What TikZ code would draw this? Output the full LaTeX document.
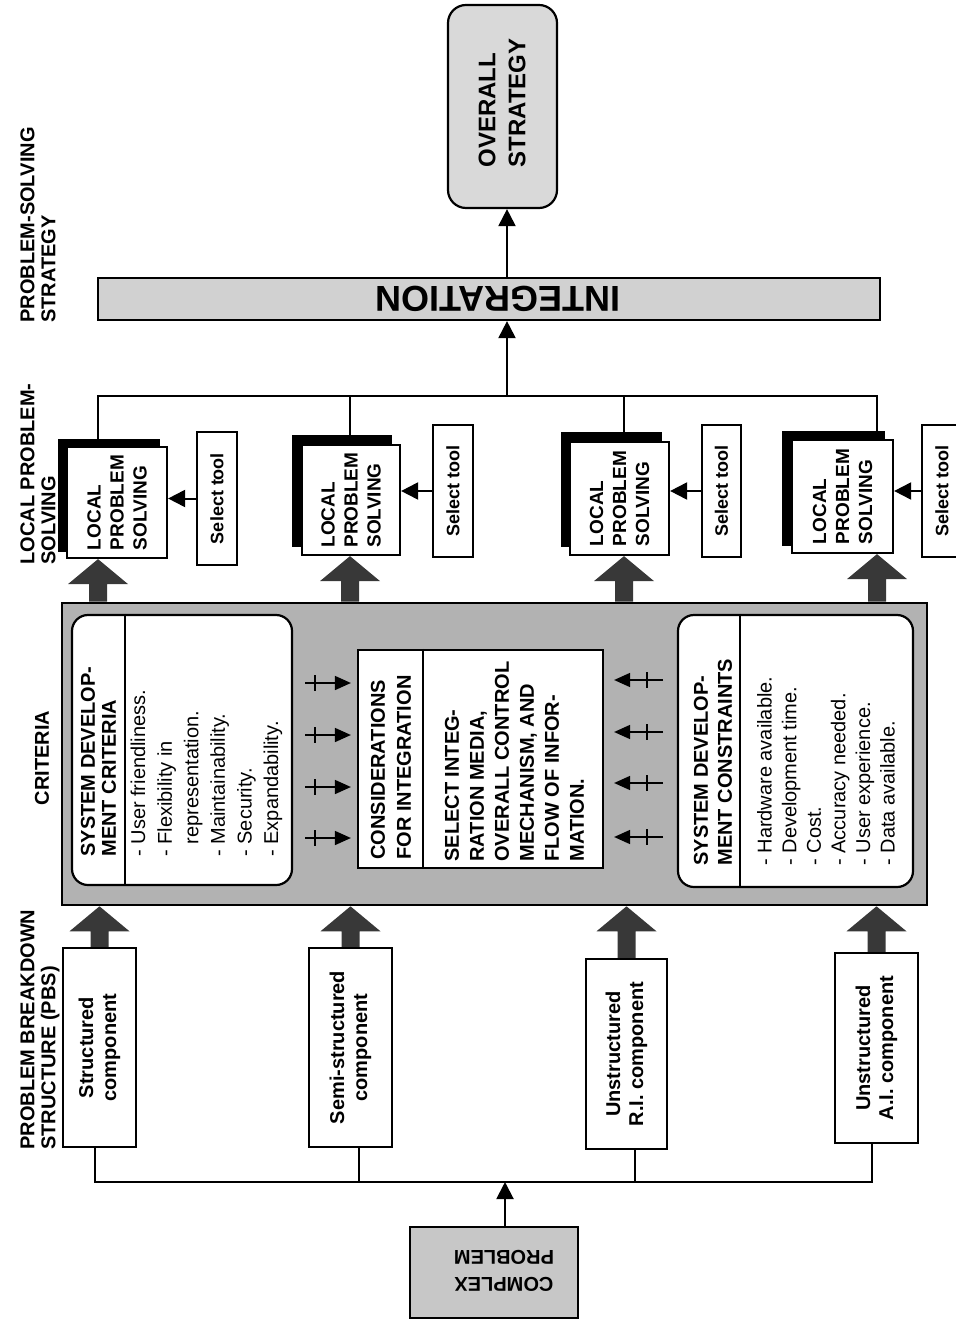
\documentclass[tikz,border=0pt]{standalone}
\usepackage{fontspec}
\setmainfont{Liberation Sans}
\usetikzlibrary{arrows.meta,calc,fit}

\newcommand\fs[2]{\fontsize{#1}{#2}\selectfont}
% broad upward arrow from point #1 (tail) to point #2 (tip)
\newcommand\blockarrow[2]{%
  \fill[blockfill] let \p1=#1, \p2=#2 in
    (\x1-4.5pt,\y1) -- (\x1-4.5pt,\y2-12.5pt) -- (\x1-15pt,\y2-12.5pt) -- (\x1,\y2)
    -- (\x1+15pt,\y2-12.5pt) -- (\x1+4.5pt,\y2-12.5pt) -- (\x1+4.5pt,\y1) -- cycle;}

\begin{document}
\begin{tikzpicture}[x=0.5pt,y=-0.5pt,
  box/.style={draw, line width=1.1pt, fill=white, inner sep=0pt},
  roundbox/.style={box, rounded corners=8pt},
  backbox/.style={draw, fill=black, line width=1pt, inner sep=0pt},
  vtext/.style={rotate=90, align=left, inner sep=0pt},
  hdr/.style={vtext, font=\bfseries\fs{10}{10.5}, anchor=west},
  vlist/.style={vtext, anchor=west},
  wire/.style={line width=1pt},
  arr/.style={wire, -{Triangle[length=8.5pt,width=8.5pt]}},
  smallarr/.style={line width=0.8pt, -{Triangle[length=8pt,width=7pt]}},
  tick/.style={line width=0.8pt},
  blockfill/.style={fill=black!78},
  lpsfont/.style={vtext, font=\bfseries\fs{9.5}{11.5}},
  toolfont/.style={vtext, font=\bfseries\fs{9}{11}},
  compfont/.style={vtext, align=center, font=\bfseries\fs{10}{11.5}},
]
\useasboundingbox (0,0) rectangle (956,1320);

% positions of the vertical links above and below the criteria block
\coordinate (c1) at (98,396);  \coordinate (c2) at (350,396);
\coordinate (c3) at (624,396); \coordinate (c4) at (877,396);
\coordinate (tbus) at (507,396);
\coordinate (b1) at (95,1182);  \coordinate (b2) at (359,1182);
\coordinate (b3) at (635,1182); \coordinate (b4) at (872,1182);
\coordinate (bbus) at (505,1182);

% level headings
\node[hdr] (h1) at (38,323) {PROBLEM-SOLVING\\STRATEGY};
\node[hdr] (h2) at (38,565) {LOCAL PROBLEM-\\SOLVING};
\node[hdr, anchor=center] (h3) at (42,758) {CRITERIA};
\node[hdr] (h4) at (40,1150) {PROBLEM BREAKDOWN\\STRUCTURE (PBS)};

% overall strategy and integration
\node[roundbox, rounded corners=9pt, fill=black!15, fit={(448,5) (557,208)}] (overall) {};
\node[vtext, font=\bfseries\fs{12}{15}] (overallt) at (502,103) {OVERALL\\STRATEGY};
\node[box, fill=black!18, fit={(98,278) (880,320)}] (integ) {};
\node[font=\bfseries\fs{18}{20}, rotate=180, inner sep=0pt] (integt) at (498,299) {INTEGRATION};
\draw[arr] (integ.north -| tbus) -- (overall.south -| tbus);
\draw[arr] (tbus) -- (integ.south -| tbus);

% local problem solving units
\node[backbox, fit={(59,440) (159,551)}] (lps1b) {};
\node[box, fit={(67,447) (167,558)}] (lps1) {};
\node[lpsfont] (lps1t) at (lps1.center) {LOCAL\\PROBLEM\\SOLVING};
\node[backbox, fit={(293,436) (391,546)}] (lps2b) {};
\node[box, fit={(302,445) (400,555)}] (lps2) {};
\node[lpsfont] (lps2t) at (lps2.center) {LOCAL\\PROBLEM\\SOLVING};
\node[backbox, fit={(562,433) (661,546)}] (lps3b) {};
\node[box, fit={(570,442) (669,555)}] (lps3) {};
\node[lpsfont] (lps3t) at (lps3.center) {LOCAL\\PROBLEM\\SOLVING};
\node[backbox, fit={(783,432) (884,545)}] (lps4b) {};
\node[box, fit={(792,440) (893,553)}] (lps4) {};
\node[lpsfont] (lps4t) at (lps4.center) {LOCAL\\PROBLEM\\SOLVING};

\node[box, fit={(197,432) (237,565)}] (st1) {};
\node[toolfont] (st1t) at (st1.center) {Select tool};
\node[box, fit={(433,425) (473,557)}] (st2) {};
\node[toolfont] (st2t) at (st2.center) {Select tool};
\node[box, fit={(702,425) (741,557)}] (st3) {};
\node[toolfont] (st3t) at (st3.center) {Select tool};
\node[box, fit={(922,425) (962,557)}] (st4) {};
\node[toolfont] (st4t) at (st4.center) {Select tool};
\draw[arr] (st1.west) -- (st1.west -| lps1.east);
\draw[arr] (st2.west) -- (st2.west -| lps2.east);
\draw[arr] (st3.west) -- (st3.west -| lps3.east);
\draw[arr] (st4.west) -- (st4.west -| lps4.east);

\draw[wire] (c1 |- lps1b.north) -- (c1) -- (c4) -- (c4 |- lps4b.north);
\draw[wire] (c2) -- (c2 |- lps2b.north);
\draw[wire] (c3) -- (c3 |- lps3b.north);

% criteria block
\node[box, line width=1.3pt, fill=black!30, fit={(62,603) (927,905)}] (crit) {};

\node[roundbox, fit={(72,615) (292,885)}] (sdc) {};
\draw[line width=0.9pt] (sdc.north -| 125,0) -- (sdc.south -| 125,0);
\node[vlist, font=\bfseries\fs{10}{10.6}] (sdct) at (98.5,857) {SYSTEM DEVELOP-\\MENT CRITERIA};
\node[vlist, font=\fs{10}{13.3}] (sdcl) at (206.5,857)
  {- User friendliness.\\- Flexibility in\\\phantom{- }representation.\\- Maintainability.\\- Security.\\- Expandability.};

\node[box, fit={(358,650) (603,868)}] (cons) {};
\draw[line width=0.9pt] (cons.north -| 423,0) -- (cons.south -| 423,0);
\node[vlist, font=\bfseries\fs{10}{13}] (const) at (391,860) {CONSIDERATIONS\\FOR INTEGRATION};
\node[vlist, font=\bfseries\fs{10}{12.5}] (consl) at (514.5,862)
  {SELECT INTEG-\\RATION MEDIA,\\OVERALL CONTROL\\MECHANISM, AND\\FLOW OF INFOR-\\MATION.};

\node[roundbox, fit={(678,615) (913,887)}] (sdk) {};
\draw[line width=0.9pt] (sdk.north -| 740,0) -- (sdk.south -| 740,0);
\node[vlist, font=\bfseries\fs{10}{12}] (sdkt) at (713,866) {SYSTEM DEVELOP-\\MENT CONSTRAINTS};
\node[vlist, font=\fs{10}{12.3}] (sdkl) at (826,866)
  {- Hardware available.\\- Development time.\\- Cost.\\- Accuracy needed.\\- User experience.\\- Data available.};

% flows into the considerations box
\foreach \i/\yy in {1/683,2/735,3/787,4/838}{
  \coordinate (la\i) at (305,\yy);
  \draw[smallarr, shorten >=3pt] (la\i) -- (la\i -| cons.west);
  \draw[tick] ($(la\i)+(10,-8)$) -- ++(0,16);
}
\foreach \i/\yy in {1/680,2/732,3/783,4/837}{
  \coordinate (ra\i) at (663,\yy);
  \draw[smallarr, shorten >=5pt] (ra\i) -- (ra\i -| cons.east);
  \draw[tick] ($(ra\i)+(-16,-8)$) -- ++(0,16);
}

% broad arrows from the criteria block to the local units
\blockarrow{(crit.north -| c1)}{(lps1.south -| c1)}
\blockarrow{(crit.north -| c2)}{(lps2.south -| c2)}
\blockarrow{(crit.north -| c3)}{(lps3.south -| c3)}
\blockarrow{(crit.north -| c4)}{(lps4.south -| c4)}

% problem breakdown components
\node[box, fit={(63,948) (136,1147)}] (comp1) {};
\node[compfont] (comp1t) at (comp1.center) {Structured\\component};
\node[box, fit={(309,948) (392,1147)}] (comp2) {};
\node[compfont] (comp2t) at (comp2.center) {Semi-structured\\component};
\node[box, fit={(586,959) (667,1149)}] (comp3) {};
\node[compfont] (comp3t) at (comp3.center) {Unstructured\\R.I. component};
\node[box, fit={(835,953) (918,1143)}] (comp4) {};
\node[compfont] (comp4t) at (comp4.center) {Unstructured\\A.I. component};

\blockarrow{(comp1.north)}{(crit.south -| comp1.north)}
\blockarrow{(comp2.north)}{(crit.south -| comp2.north)}
\blockarrow{(comp3.north)}{(crit.south -| comp3.north)}
\blockarrow{(comp4.north)}{(crit.south -| comp4.north)}

\draw[wire] (b1 |- comp1.south) -- (b1) -- (b4) -- (b4 |- comp4.south);
\draw[wire] (b2 |- comp2.south) -- (b2);
\draw[wire] (b3 |- comp3.south) -- (b3);

% complex problem
\node[box, fill=black!22, fit={(410,1227) (578,1318)}] (cplx) {};
\node[font=\bfseries\fs{10}{13.5}, rotate=180, align=center, inner sep=0pt] (cplxt) at (504,1271) {COMPLEX\\PROBLEM};
\draw[arr] (cplx.north -| bbus) -- (bbus);

\end{tikzpicture}
\end{document}
